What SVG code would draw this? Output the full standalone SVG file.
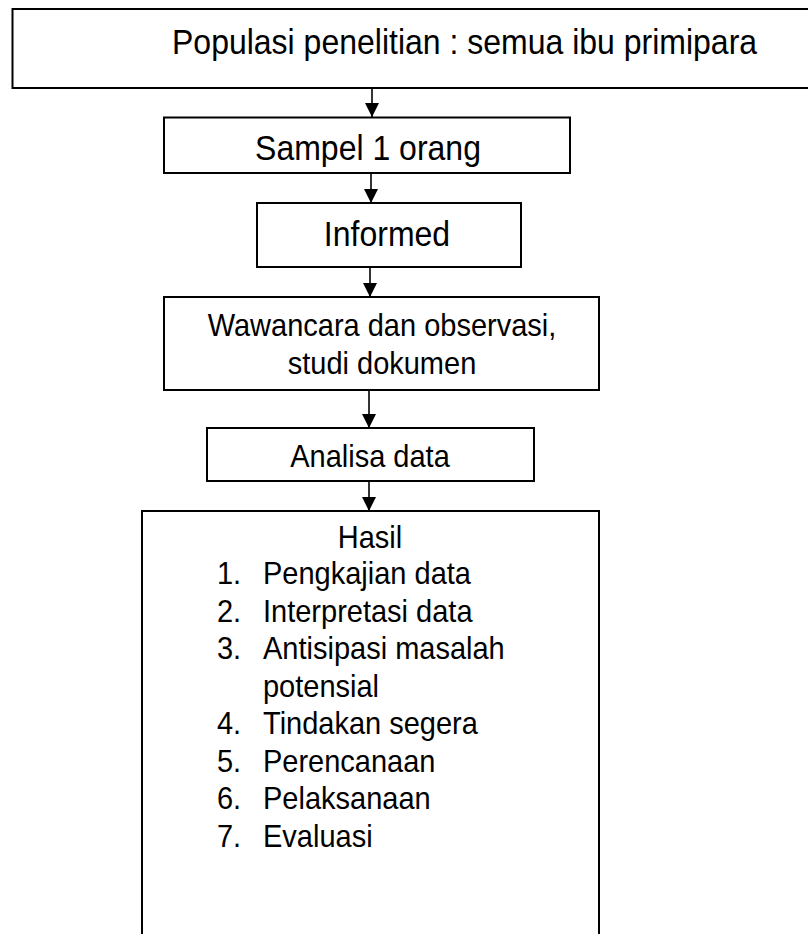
<svg xmlns="http://www.w3.org/2000/svg" width="808" height="934" viewBox="0 0 808 934">
<style>
.box{fill:#fff;stroke:#000;stroke-width:2}
.t{font-family:"Liberation Sans",Arial,sans-serif;fill:#000}
.big{font-size:32px}
.sm{font-size:29px}
.c{text-anchor:middle}
.conn{stroke:#000;stroke-width:1.6;fill:none}
</style>
<defs>
<marker id="ah" markerWidth="14" markerHeight="14" refX="14" refY="7" orient="auto" markerUnits="userSpaceOnUse">
<path d="M0,0 L14,7 L0,14 Z" fill="#000"/>
</marker>
</defs>
<rect width="808" height="934" fill="#fff"/>
<g id="n-populasi">
<rect class="box" x="12.5" y="9" width="810" height="79"/>
<text class="t big" transform="matrix(1 0 0 1.08 172 54)">Populasi penelitian : semua ibu primipara</text>
</g>
<g id="n-sampel">
<rect class="box" x="164" y="117.5" width="406" height="55.5"/>
<text class="t big c" transform="matrix(1 0 0 1.08 368 160)">Sampel 1 orang</text>
</g>
<g id="n-informed">
<rect class="box" x="257" y="203" width="264" height="64"/>
<text class="t big c" transform="matrix(1 0 0 1.08 387 246)">Informed</text>
</g>
<g id="n-wawancara">
<rect class="box" x="164" y="297" width="435" height="93"/>
<text class="t sm c" transform="matrix(1 0 0 1.08 382 336)">Wawancara dan observasi,</text>
<text class="t sm c" transform="matrix(1 0 0 1.08 382 374)">studi dokumen</text>
</g>
<g id="n-analisa">
<rect class="box" x="207" y="428" width="327" height="53"/>
<text class="t sm c" transform="matrix(1 0 0 1.08 370 467)">Analisa data</text>
</g>
<g id="n-hasil">
<rect class="box" x="142" y="511" width="457" height="440"/>
<text class="t sm c" transform="matrix(1 0 0 1.08 370 548)">Hasil</text>
<text class="t sm" transform="matrix(1 0 0 1.08 217 584)">1.</text><text class="t sm" transform="matrix(1 0 0 1.08 263 584)">Pengkajian data</text>
<text class="t sm" transform="matrix(1 0 0 1.08 217 622)">2.</text><text class="t sm" transform="matrix(1 0 0 1.08 263 622)">Interpretasi data</text>
<text class="t sm" transform="matrix(1 0 0 1.08 217 659)">3.</text><text class="t sm" transform="matrix(1 0 0 1.08 263 659)">Antisipasi masalah</text>
<text class="t sm" transform="matrix(1 0 0 1.08 263 697)">potensial</text>
<text class="t sm" transform="matrix(1 0 0 1.08 217 734)">4.</text><text class="t sm" transform="matrix(1 0 0 1.08 263 734)">Tindakan segera</text>
<text class="t sm" transform="matrix(1 0 0 1.08 217 772)">5.</text><text class="t sm" transform="matrix(1 0 0 1.08 263 772)">Perencanaan</text>
<text class="t sm" transform="matrix(1 0 0 1.08 217 809)">6.</text><text class="t sm" transform="matrix(1 0 0 1.08 263 809)">Pelaksanaan</text>
<text class="t sm" transform="matrix(1 0 0 1.08 217 847)">7.</text><text class="t sm" transform="matrix(1 0 0 1.08 263 847)">Evaluasi</text>
</g>
<g id="connectors">
<line class="conn" x1="372" y1="88" x2="372" y2="117" marker-end="url(#ah)"/>
<line class="conn" x1="371" y1="173" x2="371" y2="203" marker-end="url(#ah)"/>
<line class="conn" x1="370" y1="267" x2="370" y2="297" marker-end="url(#ah)"/>
<line class="conn" x1="369" y1="390" x2="369" y2="428" marker-end="url(#ah)"/>
<line class="conn" x1="369" y1="481" x2="369" y2="511" marker-end="url(#ah)"/>
</g>
</svg>
